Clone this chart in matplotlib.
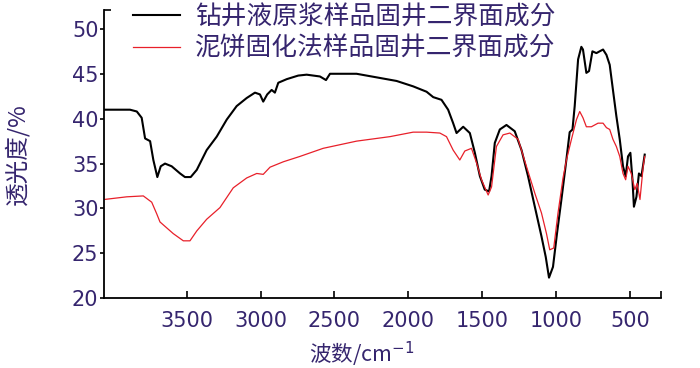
import matplotlib
matplotlib.use("Agg")
import matplotlib.pyplot as plt
from matplotlib.ticker import FixedLocator

plt.rcParams['font.family'] = ['Noto Sans CJK SC', 'DejaVu Sans']

# 钻井液原浆样品 (black)
wn_black = [4060, 3884, 3838, 3805, 3782, 3748, 3726, 3699, 3676, 3647, 3602, 3545,
            3512, 3473, 3432, 3365, 3297, 3229, 3162, 3094, 3038, 3004, 2982, 2955,
            2925, 2903, 2880, 2823, 2745, 2688, 2598, 2557, 2530, 2350, 2214, 2079,
            1967, 1876, 1831, 1775, 1730, 1696, 1673, 1628, 1583, 1549, 1515, 1482,
            1453, 1436, 1414, 1380, 1335, 1279, 1233, 1189, 1143, 1098, 1069, 1047,
            1020, 993, 963, 934, 907, 888, 873, 850, 828, 817, 794, 776, 753, 726,
            704, 681, 658, 636, 614, 591, 568, 546, 528, 512, 496, 482, 472, 455,
            438, 421, 399]
t_black = [41.0, 41.0, 40.8, 40.1, 37.8, 37.5, 35.4, 33.5, 34.7, 35.0, 34.7, 33.9,
           33.5, 33.5, 34.3, 36.5, 38.0, 39.9, 41.4, 42.3, 42.9, 42.7, 41.9, 42.7,
           43.2, 42.9, 44.0, 44.4, 44.8, 44.9, 44.7, 44.3, 45.0, 45.0, 44.6, 44.2,
           43.6, 43.0, 42.4, 42.1, 41.0, 39.5, 38.4, 39.1, 38.4, 36.2, 33.6, 32.1,
           31.9, 33.6, 37.3, 38.8, 39.3, 38.6, 36.5, 33.6, 30.2, 26.9, 24.6, 22.3,
           23.5, 27.2, 31.0, 34.8, 38.5, 38.8, 41.4, 46.6, 48.0, 47.7, 45.1, 45.3,
           47.5, 47.3, 47.5, 47.7, 47.1, 46.0, 43.2, 40.3, 37.7, 34.7, 33.6, 35.8,
           36.2, 33.2, 30.2, 31.3, 33.9, 33.6, 36.0]

# 泥饼固化法样品 (red)
wn_red = [4060, 3906, 3794, 3737, 3703, 3681, 3591, 3523, 3478, 3432, 3365, 3275,
          3185, 3094, 3026, 2982, 2936, 2846, 2733, 2576, 2350, 2124, 1967, 1876,
          1786, 1741, 1696, 1651, 1617, 1572, 1538, 1504, 1459, 1436, 1403, 1358,
          1312, 1256, 1200, 1143, 1098, 1064, 1042, 1015, 986, 952, 929, 895, 861,
          839, 817, 794, 760, 715, 681, 658, 636, 614, 591, 568, 546, 528, 512,
          490, 466, 450, 431, 409, 399]
t_red = [31.0, 31.3, 31.4, 30.7, 29.4, 28.5, 27.2, 26.4, 26.4, 27.5, 28.8, 30.1,
         32.3, 33.4, 33.9, 33.8, 34.6, 35.2, 35.8, 36.7, 37.5, 38.0, 38.5, 38.5,
         38.4, 38.0, 36.5, 35.4, 36.4, 36.7, 35.1, 33.2, 31.5, 32.4, 36.9, 38.2,
         38.4, 37.7, 34.7, 31.7, 29.5, 27.2, 25.4, 25.6, 29.5, 33.4, 35.4, 37.7,
         39.9, 40.8, 40.1, 39.1, 39.1, 39.5, 39.5, 39.0, 38.8, 37.7, 36.9, 35.8,
         33.9, 33.2, 34.7, 33.9, 32.1, 32.8, 31.0, 34.7, 35.8]

labels = ['钻井液原浆样品固井二界面成分', '泥饼固化法样品固井二界面成分']
x_ticks = [3500, 3000, 2500, 2000, 1500, 1000, 500]
y_ticks = [20, 25, 30, 35, 40, 45, 50]

txt = '#35256e'

fig = plt.figure(figsize=(7, 3.68), dpi=100)
ax = fig.add_axes([0.1486, 0.1894, 0.7954, 0.7834])

ax.plot(wn_black, t_black, color='black', lw=1.5, label=labels[0])
ax.plot(wn_red, t_red, color='#e8202a', lw=0.9, label=labels[1])

ax.set_xlim(4060, 290)
ax.set_ylim(20, 52.1)
ax.set_xticks(x_ticks)
ax.set_yticks(y_ticks)
ax.xaxis.set_minor_locator(FixedLocator([290]))
ax.yaxis.set_minor_locator(FixedLocator([52.1]))

for s in ['top', 'right']:
    ax.spines[s].set_visible(False)
for s in ['left', 'bottom']:
    ax.spines[s].set_linewidth(1.3)

ax.tick_params(axis='x', which='both', direction='in', length=5, width=1.2,
               pad=9, labelsize=15, labelcolor=txt)
ax.tick_params(axis='y', which='major', direction='out', length=3, width=1.2,
               pad=1, labelsize=15, labelcolor=txt)
ax.tick_params(axis='y', which='minor', direction='in', length=5, width=1.2)
for lab in ax.get_xticklabels() + ax.get_yticklabels():
    lab.set_family('DejaVu Sans')

ax.set_ylabel('透光度/%', fontsize=17, color=txt)
ax.yaxis.set_label_coords(-0.134, 0.5)
ax.set_xlabel('波数/cm$^{-1}$', fontsize=15.5, color=txt)
ax.xaxis.set_label_coords(0.4635, -0.145)

leg = ax.legend(loc='upper left', bbox_to_anchor=(0.052, 1.02), frameon=False,
                fontsize=18.5, handlelength=1.83, handletextpad=0.58,
                labelspacing=0.22, borderpad=0, borderaxespad=0)
for t in leg.get_texts():
    t.set_color(txt)

fig.savefig('out.png', dpi=100)
